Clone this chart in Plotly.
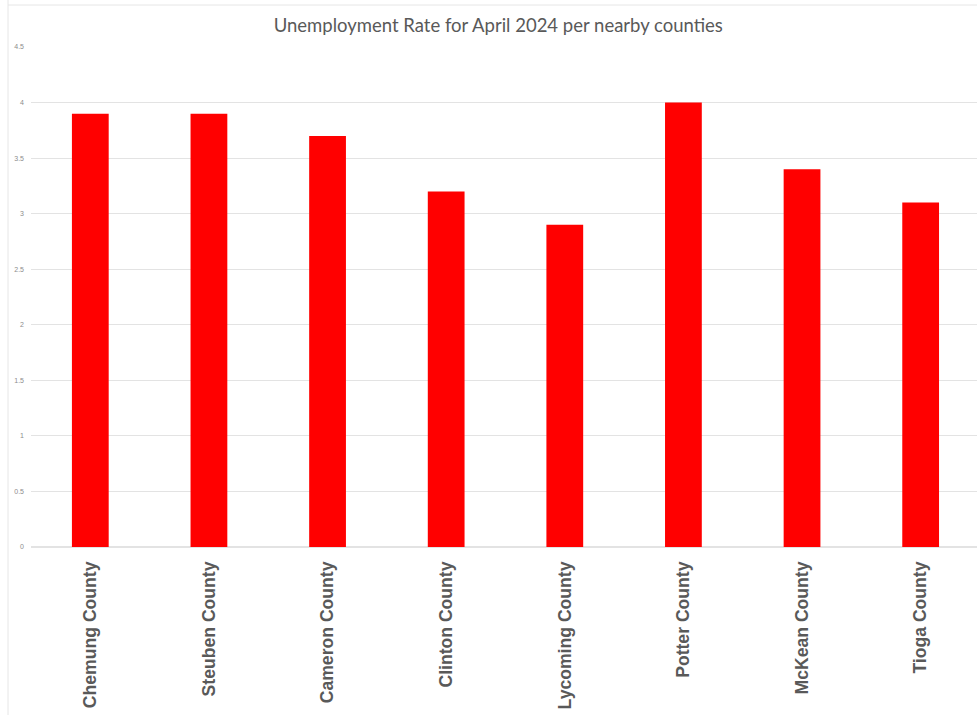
import plotly.graph_objects as go

counties = ["Chemung County", "Steuben County", "Cameron County", "Clinton County",
            "Lycoming County", "Potter County", "McKean County", "Tioga County"]
rates = [3.9, 3.9, 3.7, 3.2, 2.9, 4.0, 3.4, 3.1]
y_ticks = [0, 0.5, 1, 1.5, 2, 2.5, 3, 3.5, 4, 4.5]

fig = go.Figure(go.Bar(x=counties, y=rates, marker=dict(color="#ff0000", line=dict(width=0))))

fig.update_layout(
    width=977, height=715,
    margin=dict(l=31, r=0, t=47, b=168),
    paper_bgcolor="white", plot_bgcolor="white",
    bargap=0.69,
    showlegend=False,
    title=dict(text="Unemployment Rate for April 2024 per nearby counties",
               x=0.51, xanchor="center", y=0.965, yanchor="middle",
               font=dict(family="Lato, Open Sans, sans-serif", size=18.5, color="#595959")),
    xaxis=dict(range=[-0.5, 7.475], tickangle=-90, showgrid=False, showline=False,
               ticks="", ticklabelstandoff=10,
               tickfont=dict(family="Liberation Sans, Arial, sans-serif", size=17.6,
                             color="#595959", weight="bold")),
    yaxis=dict(range=[0, 4.5], tickvals=y_ticks, ticktext=[str(v) for v in y_ticks],
               showgrid=True, gridcolor="#e3e3e3", gridwidth=1, zeroline=True,
               zerolinecolor="#e3e3e3", ticks="", ticklabelstandoff=6,
               tickfont=dict(family="Liberation Sans, Arial, sans-serif", size=7, color="#8c8c8c")),
    shapes=[
        dict(type="line", xref="paper", yref="paper", x0=-23/946, x1=-23/946, y0=-0.5, y1=1.2,
             line=dict(color="#e6e6e6", width=1)),
        dict(type="line", xref="paper", yref="paper", x0=-23/946, x1=1.1, y0=(715-168-5)/500, y1=(715-168-5)/500,
             line=dict(color="#e6e6e6", width=1)),
    ],
)

fig.write_html("out.html")
